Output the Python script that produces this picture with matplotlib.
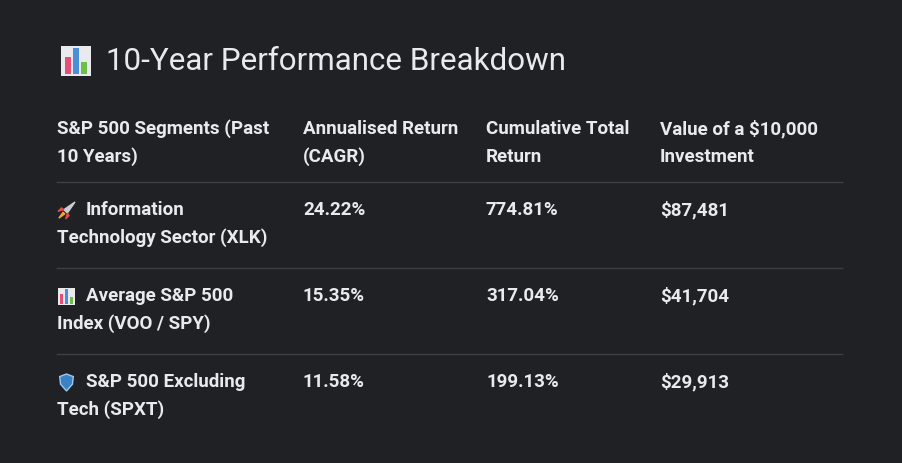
import matplotlib
matplotlib.use("Agg")
import matplotlib.pyplot as plt
from matplotlib.patches import Rectangle, Polygon

title = "10-Year Performance Breakdown"
headers = [["S&P 500 Segments (Past", "10 Years)"], ["Annualised Return", "(CAGR)"],
           ["Cumulative Total", "Return"], ["Value of a $10,000", "Investment"]]
segments = [["Information", "Technology Sector (XLK)"], ["Average S&P 500", "Index (VOO / SPY)"],
            ["S&P 500 Excluding", "Tech (SPXT)"]]
cagr = ["24.22%", "15.35%", "11.58%"]
cumulative = ["774.81%", "317.04%", "199.13%"]
value = ["$87,481", "$41,704", "$29,913"]
icons = ["rocket", "chart", "shield"]

BG = "#202124"; FG = "#e8eaed"; LINE = "#3c4043"
fig = plt.figure(figsize=(9.02, 4.63), dpi=100, facecolor=BG)
ax = fig.add_axes([0, 0, 1, 1]); ax.set_xlim(0, 902); ax.set_ylim(463, 0); ax.axis("off")
ax.set_facecolor(BG)
FONT = "Roboto"
FS = 13.5

def chart_icon(x, y, s):
    ax.add_patch(Rectangle((x, y), s, s, facecolor="#e8eaed", edgecolor="none"))
    w = s / 5
    for i, (h, c) in enumerate([(0.55, "#e94e77"), (0.85, "#4a90d9"), (0.4, "#6cc04a")]):
        ax.add_patch(Rectangle((x + w * (0.6 + i * 1.4), y + s * (0.92 - h)), w, s * h, facecolor=c))

def rocket(x, y, s):
    ax.add_patch(Polygon([(x + s, y), (x + s * 0.35, y + s * 0.45), (x + s * 0.55, y + s * 0.65)], color="#c9ced6"))
    ax.add_patch(Polygon([(x + s * 0.35, y + s * 0.45), (x, y + s * 0.55), (x + s * 0.2, y + s * 0.35)], color="#d94c4c"))
    ax.add_patch(Polygon([(x + s * 0.55, y + s * 0.65), (x + s * 0.45, y + s), (x + s * 0.65, y + s * 0.8)], color="#d94c4c"))
    ax.add_patch(Polygon([(x + s * 0.3, y + s * 0.6), (x + s * 0.05, y + s * 0.95), (x + s * 0.4, y + s * 0.7)], color="#f5a623"))

def shield(x, y, s):
    ax.add_patch(Polygon([(x + s * 0.1, y + s * 0.15), (x + s * 0.5, y), (x + s * 0.9, y + s * 0.15),
                          (x + s * 0.85, y + s * 0.6), (x + s * 0.5, y + s), (x + s * 0.15, y + s * 0.6)],
                         facecolor="#3b82c4", edgecolor="#9cc9f0", lw=1))

chart_icon(61, 46, 30)
ax.text(106, 62, title, color=FG, fontsize=22.6, family=FONT, va="center", ha="left")

cols = [57, 303, 486, 660]
for cx, h in zip(cols, headers):
    for j, line in enumerate(h):
        ax.text(cx, 129 + 28 * j, line, color=FG, fontsize=FS, fontweight="bold", family=FONT, va="center")

for yl in [182, 268, 354]:
    ax.plot([57, 842], [yl, yl], color=LINE, lw=1)

for i in range(3):
    y0 = 210 + 86 * i
    {"rocket": rocket, "chart": chart_icon, "shield": shield}[icons[i]](58, y0 - 8, 17)
    ax.text(86, y0, segments[i][0], color=FG, fontsize=FS, fontweight="bold", family=FONT, va="center")
    ax.text(57, y0 + 28, segments[i][1], color=FG, fontsize=FS, fontweight="bold", family=FONT, va="center")
    for cx, v in zip(cols[1:], [cagr[i], cumulative[i], value[i]]):
        ax.text(cx, y0, v, color=FG, fontsize=FS, fontweight="bold", family=FONT, va="center")

fig.savefig("out.png", dpi=100, facecolor=BG)
